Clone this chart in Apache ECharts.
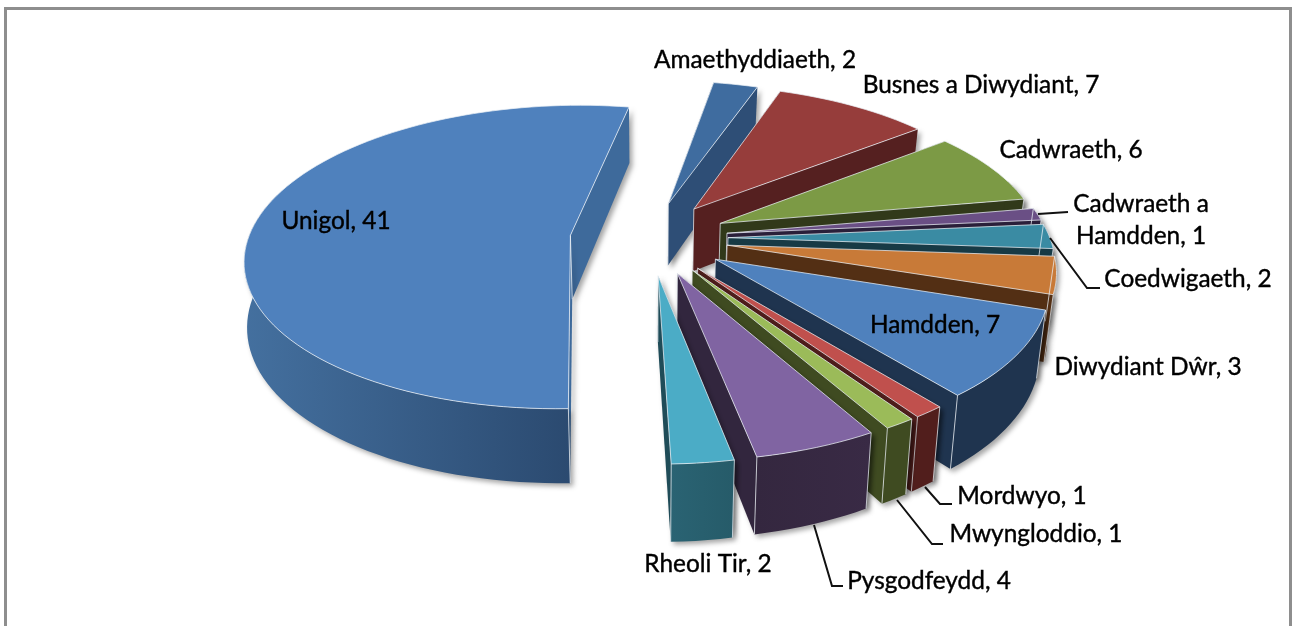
<!DOCTYPE html>
<html>
<head>
<meta charset="utf-8">
<style>
  html, body { margin: 0; padding: 0; background: #fff; overflow: hidden; }
  #chart { width: 1293px; height: 626px; filter: blur(0.4px); }
</style>
<script src="https://cdn.jsdelivr.net/npm/echarts@6/dist/echarts.min.js"></script>
</head>
<body>
<div id="chart"></div>
<script>
// data, clockwise from the first slice
const categories = ['Amaethyddiaeth', 'Busnes a Diwydiant', 'Cadwraeth', 'Cadwraeth a\nHamdden', 'Coedwigaeth', 'Diwydiant Dŵr', 'Hamdden', 'Mordwyo', 'Mwyngloddio', 'Pysgodfeydd', 'Rheoli Tir', 'Unigol'];
const values = [2, 7, 6, 1, 2, 3, 7, 1, 1, 4, 2, 41];

// colours
const topColors = ['#3f6c9f', '#963d3b', '#7c9a45', '#6a4f85', '#3a8ba3', '#c87a38', '#4f81bd', '#c0504d', '#9bbb59', '#8064a2', '#4bacc6', '#4f81bd'];
const wallColors = ['#2e4e76', '#552020', '#31391a', '#2a1f3a', '#173a45', '#532f14', '#1f344f', '#511e1c', '#3f4b21', '#392a45', '#265b69', '#2b4a70'];
const wallLeftColors = ['#2e4e76', '#552020', '#31391a', '#2a1f3a', '#173a45', '#532f14', '#1f344f', '#511e1c', '#3f4b21', '#34273f', '#2a6373', '#44709f'];
const sideColors = ['#2e4e76', '#552020', '#31391a', '#2a1f3a', '#173a45', '#532f14', '#1f344f', '#511e1c', '#3f4b21', '#32263e', '#1f4c58', '#3e6a9b'];

// label layout: centre x, centre y, and leader line if there is one
const labelX = [755, 981, 1071, 1141, 1188, 1148, 935, 1022, 1036, 929, 708, 336];
const labelY = [60, 85, 150, 220, 279, 367, 325, 496, 534, 581, 564, 221];
const leaders = [null, null, null,
  [[1038, 214], [1068, 212]],
  [[1050, 238], [1087, 288], [1100, 288]],
  null, null,
  [[925, 487], [940, 504], [952, 504]],
  [[897, 500], [932, 544], [943, 544]],
  [[814, 525], [832, 586], [843, 586]],
  null, null];

// pie geometry
const cx = 649, cy = 238;
const radius = 322, explode = 79, tilt = 0.464, camera = 2250, depth = 64, bottomLean = 0.023, bottomLeanMax = 3;
const firstAngle = 10;

const total = values.reduce((a, b) => a + b, 0);
const toRad = d => d * Math.PI / 180;

// angles from the values
const sliceAngles = [];
let acc = firstAngle;
values.forEach(v => {
  const sweep = v / total * 360;
  sliceAngles.push([acc, acc + sweep]);
  acc += sweep;
});

// world point to screen, z = 1 is the bottom of the slab
function project(mid, r, a, z) {
  const X = explode * Math.sin(toRad(mid)) + r * Math.sin(toRad(a));
  const Y = -explode * Math.cos(toRad(mid)) - r * Math.cos(toRad(a));
  const s = 1 / (1 - Y / camera);
  const lean = z ? Math.min(bottomLeanMax, -X * s * bottomLean) : 0;
  return [cx + X * s + lean, cy + tilt * Y * s + z * depth * s];
}

// back to front
const drawOrder = values.map((v, i) => i).sort((a, b) => {
  const ma = (sliceAngles[a][0] + sliceAngles[a][1]) / 2;
  const mb = (sliceAngles[b][0] + sliceAngles[b][1]) / 2;
  return Math.cos(toRad(mb)) - Math.cos(toRad(ma));
});

const edge = 'rgba(235,240,245,0.75)';
const shadow = { shadowBlur: 5, shadowOffsetX: 3, shadowOffsetY: 3, shadowColor: 'rgba(0,0,0,0.35)' };

function poly(points, style, z2) {
  return { type: 'polygon', shape: { points: points }, style: style, z2: z2, silent: true };
}
function line(points, style, z2) {
  return { type: 'polyline', shape: { points: points }, style: Object.assign({ fill: null }, style), z2: z2, silent: true };
}

function renderSlice(params, api) {
  const i = params.dataIndex;
  const [a1, a2] = sliceAngles[i];
  const mid = (a1 + a2) / 2;
  const base = drawOrder.indexOf(i) * 10 + 1;
  const children = [];

  // arc points
  const steps = Math.max(2, Math.ceil((a2 - a1) / 2));
  const arc = [];
  for (let k = 0; k <= steps; k++) arc.push(a1 + (a2 - a1) * k / steps);
  const apexTop = project(mid, 0, a1, 0), apexBottom = project(mid, 0, a1, 1);
  const topArc = arc.map(a => project(mid, radius, a, 0));

  // side walls, back one first
  const walls = [a1, a2].sort((p, q) => Math.cos(toRad(q)) - Math.cos(toRad(p)));
  walls.forEach((a, n) => {
    children.push(poly([apexTop, project(mid, radius, a, 0), project(mid, radius, a, 1), apexBottom],
      Object.assign({ fill: sideColors[i] }, shadow), base + n));
  });

  // outer wall, running on a bit past the sides so the top face hides its ends
  const front = arc.filter(a => Math.cos(toRad(a)) < 0.3);
  if (front.length > 1) {
    const upper = front.map(a => project(mid, radius, a, 0));
    const lower = front.map(a => project(mid, radius, a, 1)).reverse();
    children.push(poly(upper.concat(lower), Object.assign({
      fill: new echarts.graphic.LinearGradient(0, 0, 1, 0, [
        { offset: 0, color: wallLeftColors[i] },
        { offset: 1, color: wallColors[i] }
      ])
    }, shadow), base + 2));
  }

  // top face
  children.push(poly([apexTop].concat(topArc), { fill: topColors[i], stroke: edge, lineWidth: 1, lineJoin: 'round' }, base + 3));

  // light vertical edges
  const vertical = a => line([project(mid, radius, a, 0), project(mid, radius, a, 1)], { stroke: edge, lineWidth: 1 }, base + 4);
  if (Math.cos(toRad(a1)) < 0.3) children.push(vertical(a1));
  if (Math.cos(toRad(a2)) < 0.3 && a2 < 270) children.push(vertical(a2));
  children.push(line([apexTop, apexBottom], { stroke: edge, lineWidth: 1 }, base + 4));

  // leader line and label
  if (leaders[i]) {
    children.push(line(leaders[i], { stroke: '#111', lineWidth: 2 }, 900));
  }
  children.push({
    type: 'text',
    x: labelX[i],
    y: labelY[i],
    z2: 1000,
    silent: true,
    style: {
      text: categories[i] + ', ' + api.value(0),
      font: '24.4px Lato, sans-serif',
      fill: '#000',
      stroke: '#000',
      lineWidth: 0.4,
      align: 'center',
      verticalAlign: 'middle',
      lineHeight: 32
    }
  });

  return { type: 'group', children: children };
}

const chart = echarts.init(document.getElementById('chart'));
chart.setOption({
  animation: false,
  backgroundColor: '#fff',
  graphic: [{
    type: 'rect',
    shape: { x: 5.5, y: 8.5, width: 1285, height: 700 },
    style: { fill: null, stroke: '#8e8e8e', lineWidth: 3 },
    silent: true
  }],
  series: [{
    type: 'custom',
    coordinateSystem: 'none',
    renderItem: renderSlice,
    data: values.map(v => [v])
  }]
});
</script>
</body>
</html>
